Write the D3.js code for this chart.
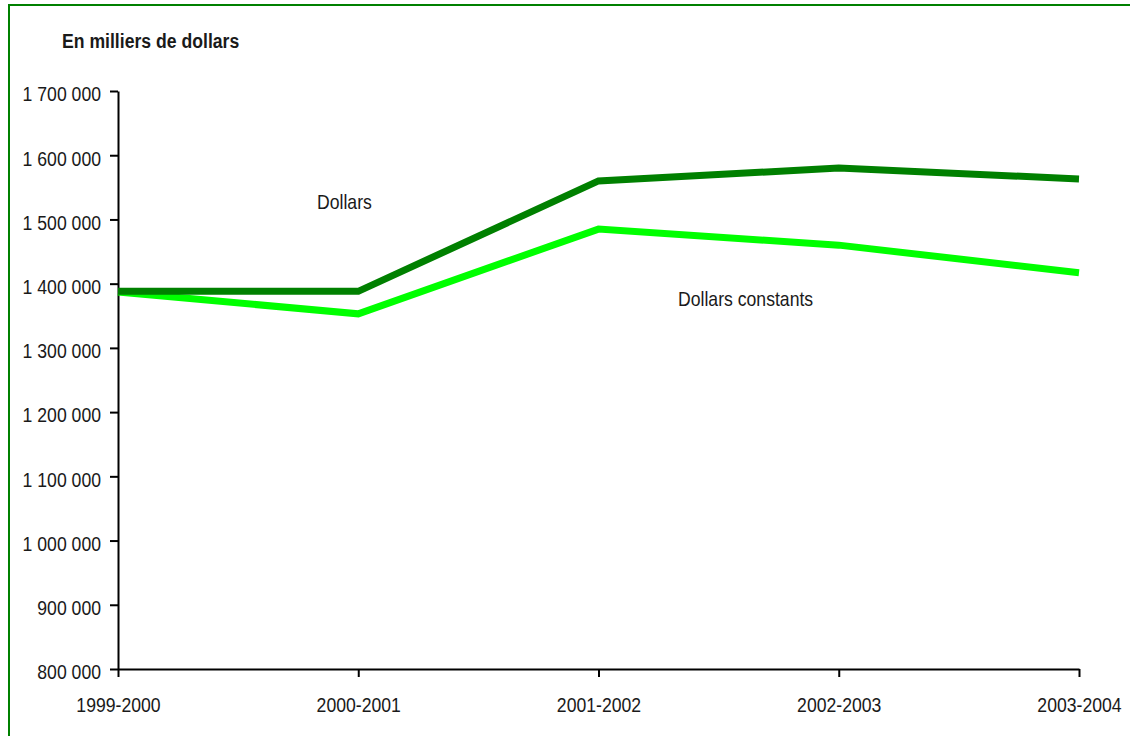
<!DOCTYPE html>
<html>
<head>
<meta charset="utf-8">
<script src="https://cdn.jsdelivr.net/npm/d3@7"></script>
<style>
  html, body { margin: 0; padding: 0; background: #fff; }
  svg { display: block; }
  text { font-family: "Liberation Sans", Arial, sans-serif; fill: #1a1a1a; }
</style>
</head>
<body>
<svg id="chart" width="1130" height="736"></svg>
<script>
// Années budgétaires
const categories = ["1999-2000", "2000-2001", "2001-2002", "2002-2003", "2003-2004"];
// Dépenses en milliers de dollars courants
const dollars = [1388000, 1388000, 1560000, 1580000, 1563000];
// Dépenses en milliers de dollars constants
const dollarsConstants = [1387000, 1353000, 1485000, 1460000, 1417000];
// Graduations de l'axe vertical
const yTicks = [800000, 900000, 1000000, 1100000, 1200000, 1300000, 1400000, 1500000, 1600000, 1700000];

const svg = d3.select("#chart");
const W = 1130, H = 736;
const FS = 20.5;      // taille du texte
const SX = 0.86;      // compression horizontale du texte (police étroite)

// Cadre vert
svg.append("rect")
  .attr("x", 9).attr("y", 5)
  .attr("width", W + 20).attr("height", H + 20)
  .attr("fill", "none").attr("stroke", "#008000").attr("stroke-width", 2);

const x = d3.scalePoint().domain(categories).range([118, 1079]);
const y = d3.scaleLinear().domain([800000, 1700000]).range([669, 91]);

const fr = d3.formatLocale({ decimal: ",", thousands: " ", grouping: [3], currency: ["", " $"] });
const fmt = fr.format(",d");

// Axe vertical
const yAxis = svg.append("g")
  .attr("transform", "translate(118,0)")
  .call(d3.axisLeft(y).tickValues(yTicks).tickFormat(fmt).tickSize(8).tickSizeOuter(0));
yAxis.selectAll("path, line").attr("stroke", "#000").attr("stroke-width", 2);
yAxis.selectAll("text")
  .attr("x", -17 / SX)
  .attr("dy", "0.48em")
  .attr("transform", `scale(${SX},1)`)
  .style("font-size", FS + "px")
  .style("font-family", "'Liberation Sans', sans-serif")
  .attr("fill", "#1a1a1a");

// Axe horizontal
const xAxis = svg.append("g")
  .attr("transform", "translate(0,669)")
  .call(d3.axisBottom(x).tickSize(8).tickSizeOuter(0));
xAxis.selectAll("path, line").attr("stroke", "#000").attr("stroke-width", 2);
xAxis.selectAll("text")
  .attr("y", 43).attr("dy", 0)
  .attr("transform", `scale(${SX},1)`)
  .style("font-size", FS + "px")
  .style("font-family", "'Liberation Sans', sans-serif")
  .attr("fill", "#1a1a1a");

// Texte libre, compressé horizontalement autour de son ancrage
function label(tx, ty, str, bold) {
  svg.append("text")
    .attr("x", tx / SX).attr("y", ty)
    .attr("transform", `scale(${SX},1)`)
    .style("font-size", FS + "px")
    .style("font-weight", bold ? "bold" : "normal")
    .text(str);
}

// Titre de l'axe
label(62, 48, "En milliers de dollars", true);

const line = d3.line()
  .x((d, i) => x(categories[i]))
  .y(d => y(d));

svg.append("path")
  .datum(dollarsConstants)
  .attr("d", line)
  .attr("fill", "none")
  .attr("stroke", "#00ff00")
  .attr("stroke-width", 7)
  .attr("stroke-linejoin", "miter")
  .attr("stroke-linecap", "butt");

svg.append("path")
  .datum(dollars)
  .attr("d", line)
  .attr("fill", "none")
  .attr("stroke", "#008000")
  .attr("stroke-width", 7)
  .attr("stroke-linejoin", "miter")
  .attr("stroke-linecap", "butt");

// Étiquettes des séries
label(317, 209, "Dollars");
label(678, 306, "Dollars constants");
</script>
</body>
</html>
